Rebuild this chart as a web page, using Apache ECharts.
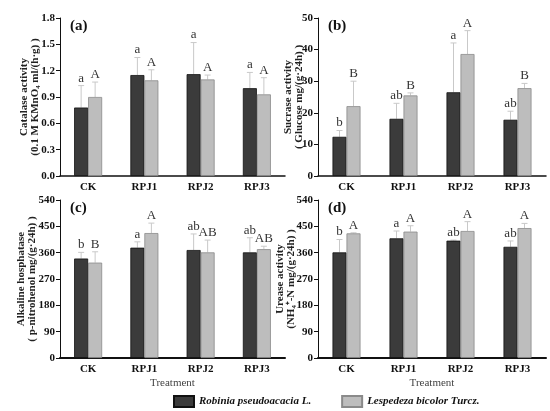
<!DOCTYPE html>
<html>
<head>
<meta charset="utf-8">
<script src="https://cdn.jsdelivr.net/npm/echarts@6/dist/echarts.min.js"></script>
<style>
  html, body { margin: 0; padding: 0; background: #fff; }
  #main { width: 550px; height: 411px; }
</style>
</head>
<body>
<div id="main"></div>
<script>
// categories and data
var categories = ['CK', 'RPJ1', 'RPJ2', 'RPJ3'];
var speciesNames = ['Robinia pseudoacacia L.', 'Lespedeza bicolor Turcz.'];

// (a) catalase
var catRob = [0.78, 1.15, 1.16, 1.00];
var catRobErr = [0.25, 0.20, 0.36, 0.18];
var catLes = [0.90, 1.09, 1.10, 0.93];
var catLesErr = [0.17, 0.12, 0.05, 0.19];
var catRobSig = ['a', 'a', 'a', 'a'];
var catLesSig = ['A', 'A', 'A', 'A'];

// (b) sucrase
var sucRob = [12.4, 18.1, 26.5, 17.8];
var sucRobErr = [2.0, 4.9, 15.6, 2.7];
var sucLes = [22.1, 25.5, 38.6, 27.8];
var sucLesErr = [7.9, 0.8, 7.4, 1.5];
var sucRobSig = ['b', 'ab', 'a', 'ab'];
var sucLesSig = ['B', 'B', 'A', 'B'];

// (c) alkaline phosphatase
var alpRob = [340, 377, 369, 361];
var alpRobErr = [21, 20, 55, 50];
var alpLes = [326, 427, 361, 372];
var alpLesErr = [37, 34, 42, 10];
var alpRobSig = ['b', 'a', 'ab', 'ab'];
var alpLesSig = ['B', 'A', 'AB', 'AB'];

// (d) urease
var ureRob = [361, 409, 401, 380];
var ureRobErr = [44, 25, 2, 20];
var ureLes = [426, 432, 434, 444];
var ureLesErr = [2, 20, 32, 16];
var ureRobSig = ['b', 'a', 'ab', 'ab'];
var ureLesSig = ['A', 'A', 'A', 'A'];

// y axis settings per panel
var yMax = [1.8, 50, 540, 540];
var yStep = [0.3, 10, 90, 90];
var yNames = [
  'Catalase activity\n(0.1 M KMnO\u2084 ml/(h·g) )',
  'Sucrase activity\n( Glucose mg/(g·24h) )',
  'Alkaline hosphatase\n( p-nitrohenol mg/(g·24h) )',
  'Urease activity\n(NH\u2084\u207A-N mg/(g·24h) )'
];
var yNameGaps = [19, 13, 22, 21];
var panelTags = ['(a)', '(b)', '(c)', '(d)'];

var FONT = '"Liberation Serif", "Times New Roman", serif';
var BW = 14;
var darkColor = '#3b3b3b';
var lightColor = '#bdbdbd';

var panels = [
  [catRob, catRobErr, catRobSig, catLes, catLesErr, catLesSig],
  [sucRob, sucRobErr, sucRobSig, sucLes, sucLesErr, sucLesSig],
  [alpRob, alpRobErr, alpRobSig, alpLes, alpLesErr, alpLesSig],
  [ureRob, ureRobErr, ureRobSig, ureLes, ureLesErr, ureLesSig]
];

var grids = [
  { left: 60, top: 18, width: 225, height: 158 },
  { left: 318, top: 18, width: 228, height: 158 },
  { left: 60, top: 200, width: 225, height: 158 },
  { left: 318, top: 200, width: 228, height: 158 }
];

function errSeries(gi, vals, errs, sigs, shift) {
  var data = vals.map(function (v, i) { return [i, v + errs[i], v, sigs[i]]; });
  return {
    type: 'custom',
    xAxisIndex: gi,
    yAxisIndex: gi,
    z: 1,
    silent: true,
    encode: { x: 0, y: 1 },
    data: data,
    renderItem: function (params, api) {
      var top = api.coord([api.value(0), api.value(1)]);
      var base = api.coord([api.value(0), api.value(2)]);
      var x = top[0] + shift;
      var txt = data[params.dataIndex][3];
      return {
        type: 'group',
        children: [
          { type: 'line', shape: { x1: x, y1: base[1], x2: x, y2: top[1] },
            style: { stroke: '#c9c9c9', lineWidth: 1 } },
          { type: 'line', shape: { x1: x - 3, y1: top[1], x2: x + 3, y2: top[1] },
            style: { stroke: '#c9c9c9', lineWidth: 1 } },
          { type: 'text', x: x, y: top[1] - 1,
            style: { text: txt, fill: '#333', font: '13px ' + FONT,
                     textAlign: 'center', textVerticalAlign: 'bottom' } }
        ]
      };
    }
  };
}

var xAxes = [], yAxes = [], series = [], graphics = [];
grids.forEach(function (g, gi) {
  xAxes.push({
    type: 'category',
    gridIndex: gi,
    data: categories,
    axisLine: { lineStyle: { color: '#111', width: gi < 2 ? 1.5 : 2 } },
    axisTick: { show: false },
    axisLabel: { color: '#111', fontFamily: FONT, fontWeight: 'bold', fontSize: 11, margin: 6 },
    name: gi >= 2 ? 'Treatment' : '',
    nameLocation: 'middle',
    nameGap: 20,
    nameTextStyle: { color: '#444', fontFamily: FONT, fontSize: 11 }
  });
  yAxes.push({
    type: 'value',
    gridIndex: gi,
    min: 0,
    max: yMax[gi],
    interval: yStep[gi],
    splitLine: { show: false },
    axisLine: { show: true, lineStyle: { color: '#111', width: 1 } },
    axisTick: { show: true, length: 4, lineStyle: { color: '#111' } },
    axisLabel: {
      color: '#111', fontFamily: FONT, fontWeight: 'bold', fontSize: 11, margin: 5,
      formatter: function (v) { return gi === 0 ? v.toFixed(1) : String(v); }
    },
    name: yNames[gi],
    nameLocation: 'middle',
    nameRotate: 90,
    nameGap: yNameGaps[gi],
    nameMoveOverlap: false,
    nameTextStyle: { color: '#222', fontFamily: FONT, fontWeight: 'bold', fontSize: 11, lineHeight: 11 }
  });
  var p = panels[gi];
  series.push({
    type: 'bar', name: speciesNames[0], xAxisIndex: gi, yAxisIndex: gi,
    data: p[0], barWidth: BW, barGap: '0%', z: 2,
    itemStyle: { color: darkColor, borderColor: '#111', borderWidth: 0.8 }
  });
  series.push({
    type: 'bar', name: speciesNames[1], xAxisIndex: gi, yAxisIndex: gi,
    data: p[3], barWidth: BW, barGap: '0%', z: 2,
    itemStyle: { color: lightColor, borderColor: '#8a8a8a', borderWidth: 0.8 }
  });
  series.push(errSeries(gi, p[0], p[1], p[2], -BW / 2));
  series.push(errSeries(gi, p[3], p[4], p[5], BW / 2));
  graphics.push({
    type: 'text', left: g.left + 10, top: g.top + 1,
    style: { text: panelTags[gi], fill: '#111', font: 'bold 15px ' + FONT }
  });
});

var chart = echarts.init(document.getElementById('main'));
chart.setOption({
  backgroundColor: '#fff',
  animation: false,
  grid: grids,
  xAxis: xAxes,
  yAxis: yAxes,
  series: series,
  graphic: graphics,
  legend: {
    data: speciesNames,
    icon: 'rect',
    left: 168,
    top: 390,
    itemWidth: 20,
    itemHeight: 11,
    itemGap: 30,
    textStyle: { color: '#111', fontFamily: FONT, fontWeight: 'bold', fontStyle: 'italic', fontSize: 11 }
  }
});
</script>
</body>
</html>
